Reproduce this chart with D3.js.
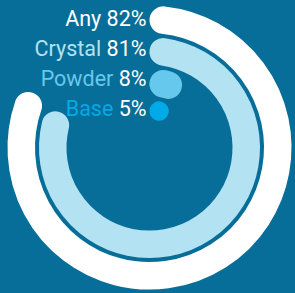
<!DOCTYPE html>
<html>
<head>
<meta charset="utf-8">
<script src="https://cdn.jsdelivr.net/npm/d3@7"></script>
<style>
  html, body { margin: 0; padding: 0; background: #066e99; }
  #chart-container { width: 295px; height: 293px; }
</style>
</head>
<body>
<div id="chart-container"></div>
<script>
// data
const categories = ["Any", "Crystal", "Powder", "Base"];
const values = [82, 81, 8, 5];

// colours per ring
const ringColors = ["#ffffff", "#b3e2f2", "#66c8ec", "#00a9e8"];

const createRadialBars = () => {
  const svgWidth = 295;
  const svgHeight = 293;
  const cx = 149.5;
  const cy = 147.6;

  const svg = d3.select("#chart-container")
    .append("svg")
    .attr("width", svgWidth)
    .attr("height", svgHeight);

  // angle: 0..100 % -> full turn, clockwise from 12 o'clock
  const angleScale = d3.scaleLinear().domain([0, 100]).range([0, 2 * Math.PI]);

  // radial bands, outermost first (band() gives the inner edge here)
  const radiusScale = d3.scaleBand()
    .domain(categories)
    .range([142, 20])
    .paddingInner(0.127);

  const color = d3.scaleOrdinal().domain(categories).range(ringColors);

  // label rows
  const labelY = d3.scalePoint().domain(categories).range([18, 108.7]);

  const data = categories.map((c, i) => ({ name: c, value: values[i] }));

  const g = svg.append("g").attr("transform", `translate(${cx},${cy})`);

  // rounded arc drawn as a thick stroke along the band centre line
  const ringPath = d => {
    const bw = radiusScale.bandwidth();
    const rOuter = radiusScale(d.name) + bw;
    const angle = angleScale(d.value);
    // short arcs shrink to a dot
    const w = Math.min(bw, rOuter * angle * 1.3);
    const rMid = rOuter - w / 2;
    const cap = (w / 2) / rMid;
    const a0 = cap;
    const a1 = Math.max(a0 + 0.001, angle - cap);
    const p = d3.path();
    p.arc(0, 0, rMid, a0 - Math.PI / 2, a1 - Math.PI / 2);
    return { d: p.toString(), w };
  };

  g.selectAll("path.ring")
    .data(data)
    .join("path")
    .attr("class", "ring")
    .attr("d", d => ringPath(d).d)
    .attr("fill", "none")
    .attr("stroke", d => color(d.name))
    .attr("stroke-width", d => ringPath(d).w)
    .attr("stroke-linecap", "round");

  const labels = svg.selectAll("text.label")
    .data(data)
    .join("text")
    .attr("class", "label")
    .attr("x", cx - 3)
    .attr("y", d => labelY(d.name) + 7.6)
    .attr("text-anchor", "end")
    .style("font-family", "Roboto, sans-serif")
    .style("font-size", "21.5px");

  labels.append("tspan")
    .attr("fill", d => color(d.name))
    .text(d => d.name + " ");

  labels.append("tspan")
    .attr("fill", "#ffffff")
    .text(d => d.value + "%");
};

createRadialBars();
</script>
</body>
</html>
